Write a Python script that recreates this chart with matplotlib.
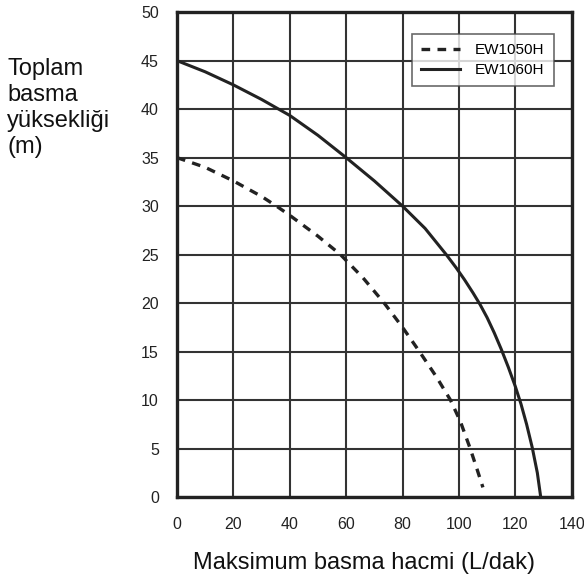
import matplotlib
matplotlib.use("Agg")
import matplotlib.pyplot as plt

plt.rcParams['font.family'] = ['Liberation Sans', 'DejaVu Sans']

flow_1050 = [0, 10, 20, 30, 35.3, 40, 50, 58, 66, 73.5, 80, 86, 92, 97, 100.5, 104, 106.5, 108.5]
head_1050 = [35, 34.0, 32.6, 31.0, 30, 29.05, 26.9, 25, 22.6, 20, 17.5, 15, 12.4, 10, 7.8, 5, 2.8, 1]

flow_1060 = [0, 10, 20, 30, 40, 50, 60, 70, 80, 88, 95.5, 99, 102, 105, 107.5, 110, 112.5, 115, 117.5, 120, 122, 124, 126, 127.8, 129]
head_1060 = [45, 43.85, 42.5, 41.0, 39.35, 37.3, 35, 32.6, 30, 27.7, 25, 23.65, 22.4, 21.05, 19.85, 18.5, 16.95, 15.25, 13.4, 11.4, 9.6, 7.5, 5.1, 2.5, 0]

x_ticks = [0, 20, 40, 60, 80, 100, 120, 140]
y_ticks = [0, 5, 10, 15, 20, 25, 30, 35, 40, 45, 50]

fig = plt.figure(figsize=(5.84, 5.78), dpi=100)
ax = fig.add_axes([0.303, 0.140, 0.676, 0.839])

ax.plot(flow_1050, head_1050, color='#222222', lw=2.4, linestyle=(0, (2.6, 2.2)), label='EW1050H')
ax.plot(flow_1060, head_1060, color='#222222', lw=2.2, label='EW1060H')

ax.set_xlim(0, 140)
ax.set_ylim(0, 50)
ax.set_xticks(x_ticks)
ax.set_yticks(y_ticks)
ax.grid(True, color='#333333', lw=1.5)
ax.set_axisbelow(True)
ax.tick_params(length=0, labelsize=11.5, colors='#222222')
ax.tick_params(axis='x', pad=14)
ax.tick_params(axis='y', pad=13)
for s in ax.spines.values():
    s.set_linewidth(2.4)
    s.set_color('#222222')

ax.set_xlabel('Maksimum basma hacmi (L/dak)', fontsize=17, color='#111111')
ax.xaxis.set_label_coords(0.473, -0.113)
fig.text(0.012, 0.899, 'Toplam\nbasma\nyüksekliği\n(m)', fontsize=17, va='top', ha='left',
         linespacing=1.22, color='#111111')

leg = ax.legend(loc='upper right', bbox_to_anchor=(0.954, 0.955), borderaxespad=0,
                fontsize=11, frameon=True, fancybox=False, edgecolor='#444444',
                handlelength=2.5, borderpad=0.6, labelspacing=0.4, handletextpad=1.0)
leg.get_frame().set_linewidth(1.2)

fig.savefig('out.png', dpi=100)
